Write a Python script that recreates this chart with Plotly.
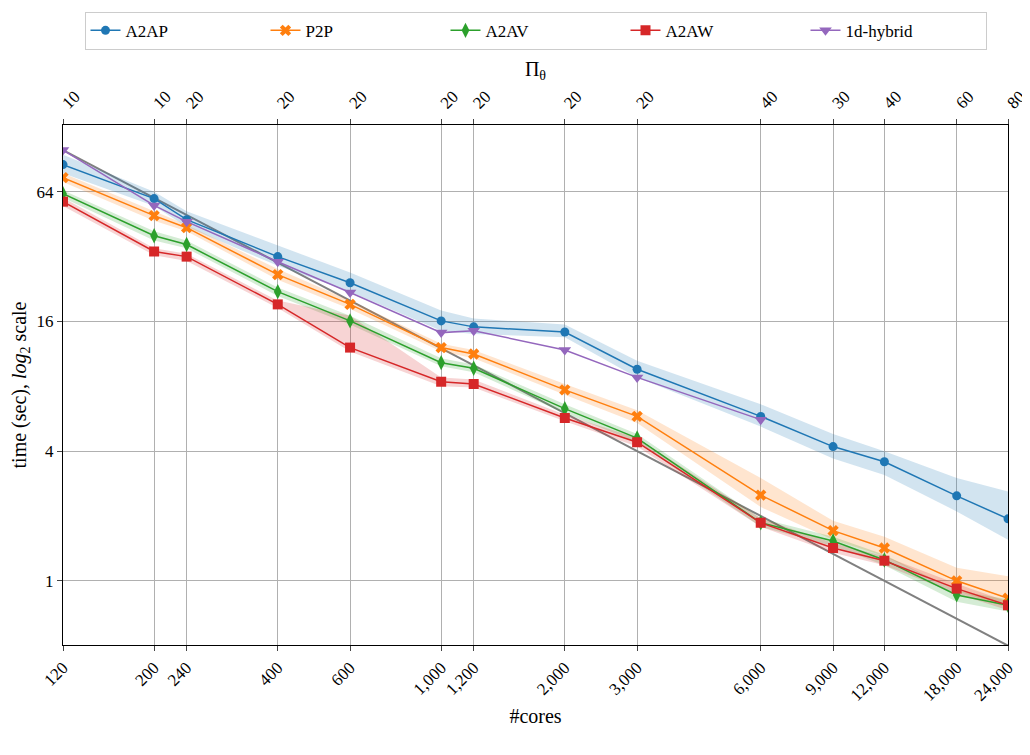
import plotly.graph_objects as go
import numpy as np

cores = [120, 200, 240, 400, 600, 1000, 1200, 2000, 3000, 6000, 9000, 12000, 18000, 24000]
pi_theta = ["10", "10", "20", "20", "20", "20", "20", "20", "20", "40", "30", "40", "60", "80"]
core_labels = ["120", "200", "240", "400", "600", "1,000", "1,200", "2,000", "3,000", "6,000", "9,000", "12,000", "18,000", "24,000"]

a2ap = [85.6, 59.5, 47.5, 32, 24.2, 16.1, 15.1, 14.3, 9.6, 5.8, 4.2, 3.57, 2.48, 1.94]
a2ap_hi = [95, 64, 52, 36, 27, 18, 16.5, 15.5, 10.5, 6.6, 4.8, 4.0, 3.0, 2.6]
a2ap_lo = [78, 55, 44, 29, 22, 14.5, 14, 13.5, 8.8, 5.2, 3.7, 3.1, 2.1, 1.55]
p2p = [74.5, 49.6, 43.6, 26.4, 19.2, 12.1, 11.3, 7.7, 5.8, 2.5, 1.71, 1.42, 1.0, 0.83]
p2p_hi = [78, 52, 45, 28, 20, 12.6, 11.8, 8.2, 6.2, 3.0, 1.9, 1.6, 1.15, 1.05]
p2p_lo = [71, 47, 42, 25, 18.3, 11.6, 10.8, 7.3, 5.4, 2.2, 1.55, 1.3, 0.9, 0.75]
a2av = [62.7, 40, 36.4, 22, 16.1, 10.3, 9.7, 6.3, 4.6, 1.86, 1.53, 1.25, 0.86, 0.77]
a2av_hi = [65, 42, 38, 23, 17, 10.8, 10.1, 6.6, 4.8, 1.95, 1.6, 1.32, 0.9, 0.82]
a2av_lo = [60, 38, 35, 21, 15.5, 9.9, 9.3, 6.0, 4.4, 1.78, 1.45, 1.18, 0.8, 0.72]
a2aw = [57.6, 33.8, 32, 19.2, 12.1, 8.4, 8.2, 5.7, 4.4, 1.86, 1.42, 1.24, 0.92, 0.77]
a2aw_hi = [60, 35, 33, 20, 17, 8.8, 8.6, 5.9, 4.6, 1.95, 1.5, 1.3, 0.97, 0.8]
a2aw_lo = [55, 32.5, 30.5, 18.5, 11.6, 8.0, 7.9, 5.5, 4.2, 1.78, 1.35, 1.18, 0.87, 0.73]
hyb_cores = cores[:10]
hyb = [100, 55.3, 46.5, 30.3, 21.8, 14.2, 14.5, 11.8, 8.8, 5.6]
ideal_ends = [100, 0.5]

fig = go.Figure()
fig.add_trace(go.Scatter(x=[cores[0], cores[-1]], y=ideal_ends, mode="lines",
                         line=dict(color="gray", width=2), showlegend=False, hoverinfo="skip"))

series = [
    ("A2AP", a2ap, a2ap_lo, a2ap_hi, "#1f77b4", "circle", 9),
    ("P2P", p2p, p2p_lo, p2p_hi, "#ff7f0e", "x", 10),
    ("A2AV", a2av, a2av_lo, a2av_hi, "#2ca02c", "diamond-tall", 11),
    ("A2AW", a2aw, a2aw_lo, a2aw_hi, "#d62728", "square", 10),
]
fills = {"#1f77b4": "rgba(31,119,180,0.2)", "#ff7f0e": "rgba(255,127,14,0.2)",
         "#2ca02c": "rgba(44,160,44,0.2)", "#d62728": "rgba(214,39,40,0.2)"}
for name, y, lo, hi, c, sym, sz in series:
    fig.add_trace(go.Scatter(x=cores + cores[::-1], y=hi + lo[::-1], fill="toself",
                             fillcolor=fills[c], line=dict(width=0), showlegend=False, hoverinfo="skip"))
for name, y, lo, hi, c, sym, sz in series:
    fig.add_trace(go.Scatter(x=cores, y=y, name=name, mode="lines+markers",
                             line=dict(color=c, width=1.5), marker=dict(symbol=sym, size=sz, color=c)))
fig.add_trace(go.Scatter(x=hyb_cores, y=hyb, name="1d-hybrid", mode="lines+markers",
                         line=dict(color="#9467bd", width=1.5),
                         marker=dict(symbol="triangle-down", size=11, color="#9467bd")))
fig.add_trace(go.Scatter(x=cores, y=a2ap, xaxis="x2", mode="markers",
                         marker=dict(opacity=0), showlegend=False, hoverinfo="skip"))

xr = [np.log10(120), np.log10(24000)]
font = dict(family="Liberation Serif", size=17, color="black")
fig.update_layout(
    width=1030, height=755, plot_bgcolor="white", paper_bgcolor="white",
    margin=dict(l=55, r=30, t=117, b=118), font=font,
    xaxis=dict(type="log", range=xr, tickvals=cores, ticktext=core_labels, tickangle=-45,
               showgrid=True, gridcolor="#b0b0b0", showline=True, linecolor="black", mirror=False,
               ticks="outside", automargin=False, title=dict(text="#cores", standoff=5)),
    xaxis2=dict(type="log", range=xr, overlaying="x", side="top", tickvals=cores, ticktext=pi_theta,
                tickangle=-45, showgrid=False, showline=True, linecolor="black", ticks="outside",
                automargin=False, title=dict(text="Π<sub>θ</sub>", standoff=5)),
    yaxis=dict(type="log", range=[np.log10(2**-0.99), np.log10(2**7.03)], tickvals=[1, 4, 16, 64],
               ticktext=["1", "4", "16", "64"], showgrid=True, gridcolor="#b0b0b0",
               showline=True, linecolor="black", mirror=True, ticks="outside", automargin=False,
               title=dict(text="time (sec), <i>log</i><sub>2</sub> scale", standoff=5)),
    legend=dict(orientation="h", x=0.5, xanchor="center", y=0.995, yanchor="top",
                yref="container", entrywidth=135, entrywidthmode="pixels",
                bordercolor="#cccccc", borderwidth=1,
                font=dict(family="Liberation Serif", size=17)),
)
fig.write_html("out.html")
